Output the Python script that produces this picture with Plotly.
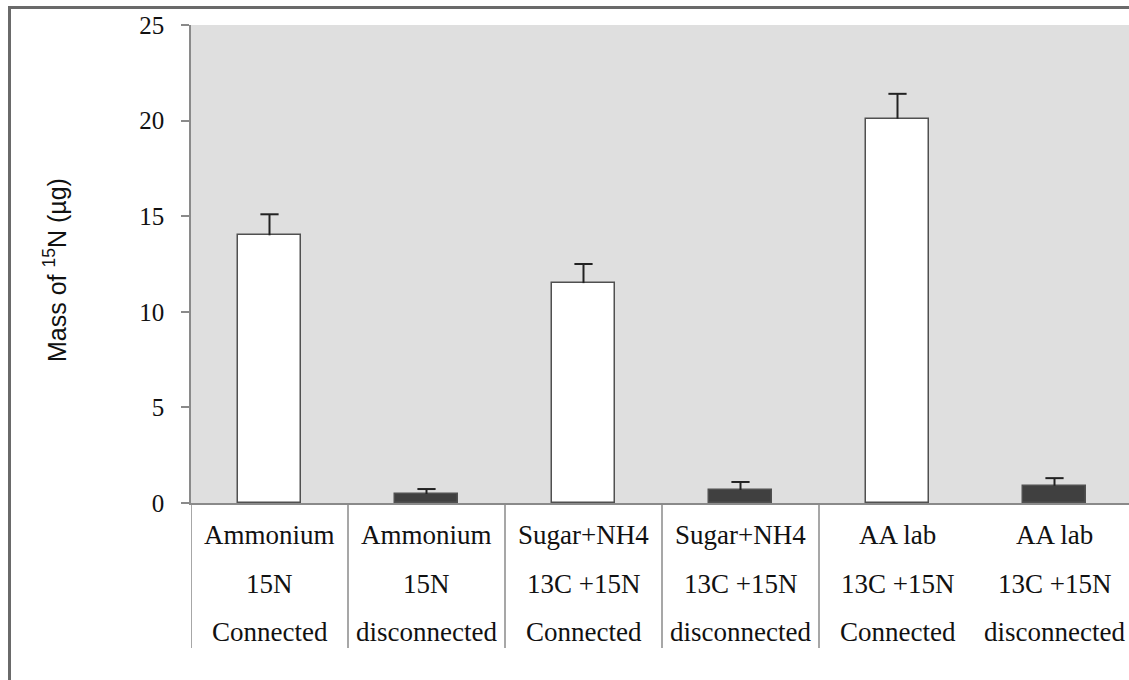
import plotly.graph_objects as go

line1 = ["Ammonium", "Ammonium", "Sugar+NH4", "Sugar+NH4", "AA lab", "AA lab"]
line2 = ["15N", "15N", "13C +15N", "13C +15N", "13C +15N", "13C +15N"]
line3 = ["Connected", "disconnected", "Connected", "disconnected", "Connected", "disconnected"]
values = [14.0, 0.47, 11.5, 0.68, 20.1, 0.9]
errors = [1.1, 0.26, 1.0, 0.42, 1.3, 0.4]
y_ticks = [0, 5, 10, 15, 20, 25]

W, H = 1129, 680
L, T, B = 191, 25, 503
plot_w = W - L
cat_px = 157.0

SERIF = "Times New Roman, Liberation Serif, serif"
SANS = "Arial, Liberation Sans, sans-serif"

xs = list(range(len(values)))
fills = ["#ffffff" if c == "Connected" else "#404040" for c in line3]

fig = go.Figure()
fig.add_trace(go.Bar(
    x=xs, y=values, width=0.4,
    marker=dict(color=fills, line=dict(color="#505050", width=1.5)),
    showlegend=False, hoverinfo="skip",
))
# one-sided error bars: stems + caps
stem_x, stem_y = [], []
for i, v, e in zip(xs, values, errors):
    stem_x += [i, i, None]
    stem_y += [v, v + e, None]
fig.add_trace(go.Scatter(x=stem_x, y=stem_y, mode="lines",
                         line=dict(color="#222222", width=2), showlegend=False,
                         hoverinfo="skip"))
fig.add_trace(go.Scatter(x=xs, y=[v + e for v, e in zip(values, errors)], mode="markers",
                         marker=dict(symbol="line-ew", size=13,
                                     line=dict(color="#222222", width=2)),
                         showlegend=False, hoverinfo="skip"))

def py(px):
    return (B - px) / (B - T)

def pxx(px):
    return (px - L) / plot_w

annotations = []
for i in xs:
    for txt, ypix in ((line1[i], 535), (line2[i], 584), (line3[i], 632)):
        annotations.append(dict(x=i, xref="x", y=py(ypix), yref="paper", text=txt,
                                showarrow=False, xanchor="center", yanchor="middle",
                                font=dict(family=SERIF, size=27, color="#111")))
annotations.append(dict(x=pxx(55), xref="paper", y=py(270), yref="paper",
                        text="Mass of <sup>15</sup>N (µg)", textangle=-90, showarrow=False,
                        xanchor="center", yanchor="middle",
                        font=dict(family=SANS, size=25, color="#111")))

shapes = []
for sep in [-0.5, 0.5, 1.5, 2.5, 3.5]:
    shapes.append(dict(type="line", xref="x", yref="paper", x0=sep, x1=sep,
                       y0=0, y1=py(648), line=dict(color="#8a8a8a", width=1.5)))
# outer frame (left and top edges visible)
shapes.append(dict(type="line", xref="paper", yref="paper", x0=pxx(9.5), x1=pxx(9.5),
                   y0=py(7), y1=py(700), line=dict(color="#6a6a6a", width=3)))
shapes.append(dict(type="line", xref="paper", yref="paper", x0=pxx(8), x1=pxx(1140),
                   y0=py(7.5), y1=py(7.5), line=dict(color="#6a6a6a", width=3)))

fig.update_layout(
    width=W, height=H,
    margin=dict(l=L, r=0, t=T, b=H - B, pad=0),
    paper_bgcolor="white", plot_bgcolor="#dfdfdf",
    bargap=0,
    xaxis=dict(range=[-0.5, -0.5 + plot_w / cat_px], showticklabels=False, ticks="",
               showgrid=False, zeroline=False, showline=True, linecolor="#8a8a8a",
               linewidth=1.5),
    yaxis=dict(range=[0, 25], tickvals=y_ticks, ticktext=[str(v) for v in y_ticks],
               showgrid=False, zeroline=False, showline=True, linecolor="#8a8a8a",
               linewidth=1.5, ticks="outside", ticklen=8, tickcolor="#8a8a8a",
               tickwidth=1.5, ticklabelstandoff=12,
               tickfont=dict(family=SERIF, size=25, color="#111")),
    annotations=annotations, shapes=shapes,
)

fig.write_html("out.html", config={"displayModeBar": False},
               post_script="document.body.style.margin='0';document.body.style.overflow='hidden';")
